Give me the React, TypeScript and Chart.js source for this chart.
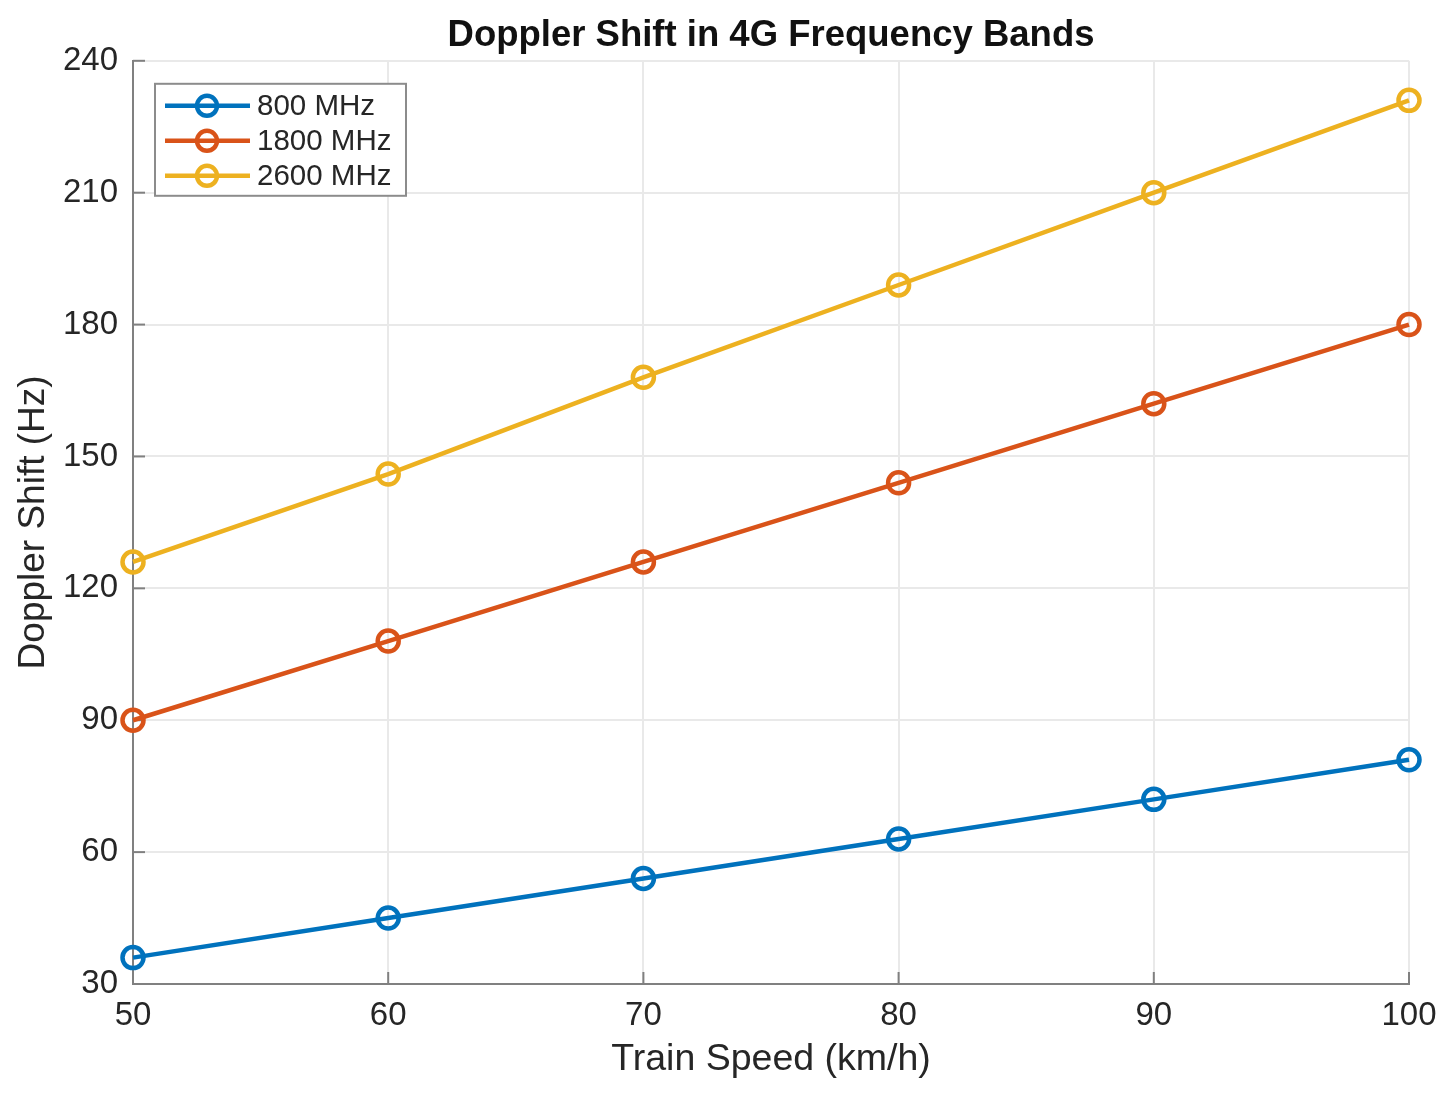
import { useEffect, useRef } from 'react';
import { Chart, registerables, Plugin } from 'chart.js';

Chart.register(...registerables);

// train speed (km/h) and doppler shift (Hz) per band
const speeds = [50, 60, 70, 80, 90, 100];
const shift800 = [36, 45, 54, 63, 72, 81];
const shift1800 = [90, 108, 126, 144, 162, 180];
const shift2600 = [126, 146, 168, 189, 210, 231];
const bandLabels = ['800 MHz', '1800 MHz', '2600 MHz'];
const bandColors = ['#0072BD', '#D95319', '#EDB120'];

const FONT = '"Liberation Sans", Arial, Helvetica, sans-serif';
const AXIS_GRAY = '#808080';
const TEXT_GRAY = '#262626';

// MATLAB style ticks pointing into the axes
const innerTicks: Plugin = {
    id: 'innerTicks',
    beforeDatasetsDraw(chart) {
        const { ctx, chartArea: a, scales } = chart;
        ctx.save();
        ctx.strokeStyle = AXIS_GRAY;
        ctx.lineWidth = 2;
        scales.x.ticks.forEach((t) => {
            const px = scales.x.getPixelForValue(t.value);
            ctx.beginPath();
            ctx.moveTo(px, a.bottom);
            ctx.lineTo(px, a.bottom - 12);
            ctx.stroke();
        });
        scales.y.ticks.forEach((t) => {
            const py = scales.y.getPixelForValue(t.value);
            ctx.beginPath();
            ctx.moveTo(a.left, py);
            ctx.lineTo(a.left + 12, py);
            ctx.stroke();
        });
        ctx.restore();
    },
};

// legend box in the upper left corner of the plot, line + open circle
const boxLegend: Plugin = {
    id: 'boxLegend',
    afterDraw(chart) {
        const { ctx, chartArea: a } = chart;
        const left = a.left + 22;
        const top = a.top + 23;
        const rowH = 35;
        ctx.save();
        ctx.fillStyle = '#ffffff';
        ctx.strokeStyle = '#8c8c8c';
        ctx.lineWidth = 2;
        ctx.fillRect(left, top, 251, 112);
        ctx.strokeRect(left, top, 251, 112);
        ctx.font = `29.5px ${FONT}`;
        ctx.textBaseline = 'middle';
        chart.data.datasets.forEach((ds, i) => {
            const y = top + 22 + i * rowH;
            const color = ds.borderColor as string;
            ctx.strokeStyle = color;
            ctx.lineWidth = 4.5;
            ctx.beginPath();
            ctx.moveTo(left + 10, y);
            ctx.lineTo(left + 95, y);
            ctx.stroke();
            ctx.beginPath();
            ctx.arc(left + 52, y, 10, 0, Math.PI * 2);
            ctx.stroke();
            ctx.fillStyle = TEXT_GRAY;
            ctx.fillText(ds.label ?? '', left + 102, y + 1);
        });
        ctx.restore();
    },
};

const DopplerChart = () => {
    const chartRef = useRef<HTMLCanvasElement | null>(null);

    useEffect(() => {
        const ctx = chartRef.current?.getContext('2d');
        if (!ctx) return;

        const series = [shift800, shift1800, shift2600];

        const myChart = new Chart(ctx, {
            type: 'line',
            data: {
                datasets: series.map((vals, i) => ({
                    label: bandLabels[i],
                    data: speeds.map((s, j) => ({ x: s, y: vals[j] })),
                    borderColor: bandColors[i],
                    backgroundColor: 'rgba(0,0,0,0)',
                    borderWidth: 4.5,
                    pointRadius: 10.5,
                    pointBorderWidth: 4.5,
                    pointBorderColor: bandColors[i],
                    pointBackgroundColor: 'rgba(0,0,0,0)',
                    tension: 0,
                    clip: false,
                })),
            },
            options: {
                animation: false,
                responsive: true,
                maintainAspectRatio: false,
                layout: { padding: { top: 0, right: 46, bottom: 0, left: 0 } },
                plugins: {
                    legend: { display: false },
                    tooltip: { enabled: false },
                    title: {
                        display: true,
                        fullSize: false,
                        text: 'Doppler Shift in 4G Frequency Bands',
                        color: '#111111',
                        font: { family: FONT, size: 36.5, weight: 'bold' },
                        padding: { top: 14, bottom: 3 },
                    },
                },
                scales: {
                    x: {
                        type: 'linear',
                        min: 50,
                        max: 100,
                        ticks: { stepSize: 10, padding: 12, color: TEXT_GRAY, font: { family: FONT, size: 33 } },
                        grid: { color: '#e9e9e9', lineWidth: 2, drawTicks: false },
                        border: { display: true, color: AXIS_GRAY, width: 2 },
                        title: {
                            display: true,
                            text: 'Train Speed (km/h)',
                            color: TEXT_GRAY,
                            font: { family: FONT, size: 37.5 },
                            padding: { top: 0, bottom: 17 },
                        },
                        afterFit: (scale) => {
                            scale.height = 115;
                        },
                    },
                    y: {
                        type: 'linear',
                        min: 30,
                        max: 240,
                        ticks: { stepSize: 30, padding: 15, color: TEXT_GRAY, font: { family: FONT, size: 33 } },
                        grid: { color: '#e9e9e9', lineWidth: 2, drawTicks: false },
                        border: { display: true, color: AXIS_GRAY, width: 2 },
                        title: {
                            display: true,
                            text: 'Doppler Shift (Hz)',
                            color: TEXT_GRAY,
                            font: { family: FONT, size: 37 },
                            padding: { top: 12, bottom: 0 },
                        },
                        afterFit: (scale) => {
                            scale.width = 133;
                        },
                    },
                },
            },
            plugins: [innerTicks, boxLegend],
        });

        return () => {
            myChart.destroy();
        };
    }, []);

    return (
        <div style={{ position: 'absolute', left: 0, top: 0, width: 1455, height: 1099, background: '#fff' }}>
            <canvas ref={chartRef} id="doppler-chart" />
        </div>
    );
};

export default function App() {
    return <DopplerChart />;
}
